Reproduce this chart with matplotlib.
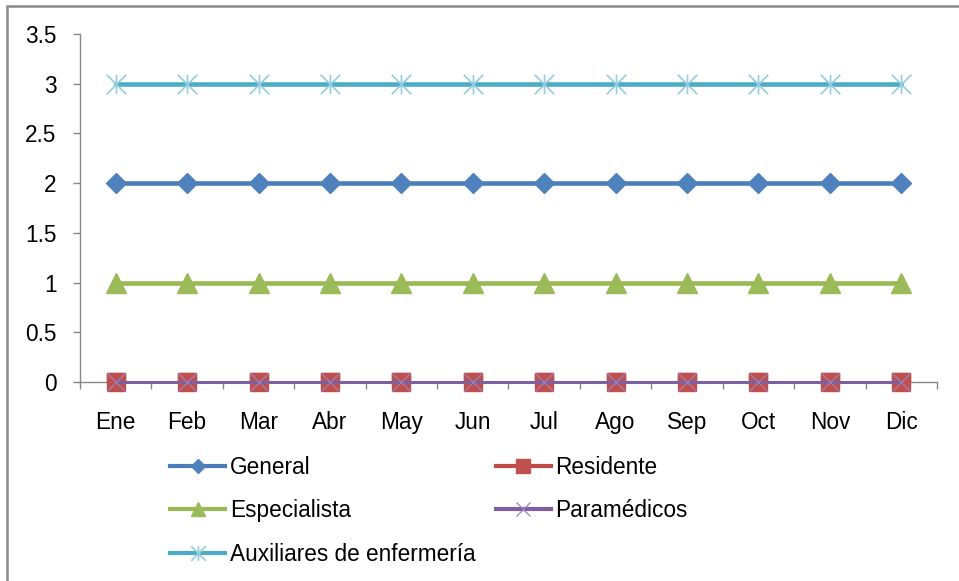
import matplotlib
matplotlib.use("Agg")
import matplotlib.pyplot as plt
from matplotlib.path import Path
from matplotlib.patches import Rectangle

plt.rcParams['font.family'] = ['Liberation Sans', 'DejaVu Sans']

months = ["Ene", "Feb", "Mar", "Abr", "May", "Jun", "Jul", "Ago", "Sep", "Oct", "Nov", "Dic"]
general = [2, 2, 2, 2, 2, 2, 2, 2, 2, 2, 2, 2]
residente = [0, 0, 0, 0, 0, 0, 0, 0, 0, 0, 0, 0]
especialista = [1, 1, 1, 1, 1, 1, 1, 1, 1, 1, 1, 1]
paramedicos = [0, 0, 0, 0, 0, 0, 0, 0, 0, 0, 0, 0]
auxiliares = [3, 3, 3, 3, 3, 3, 3, 3, 3, 3, 3, 3]
y_ticks = [0, 0.5, 1, 1.5, 2, 2.5, 3, 3.5]
y_labels = ["0", "0.5", "1", "1.5", "2", "2.5", "3", "3.5"]

W, H = 959, 581
fig = plt.figure(figsize=(W / 100, H / 100), dpi=100)
ax = fig.add_axes([80 / W, (H - 382) / H, (937 - 80) / W, (382 - 34) / H])

x = list(range(len(months)))
FS = 16.3

star = Path([(-1, -1), (1, 1), (-1, 1), (1, -1), (0, -1), (0, 1)],
            [Path.MOVETO, Path.LINETO, Path.MOVETO, Path.LINETO, Path.MOVETO, Path.LINETO])

h_gen, = ax.plot(x, general, color='#4A7EBB', lw=3.3, marker='D', ms=9.8,
                 mfc='#4F81BD', mec='#4F81BD', label='General', clip_on=False, zorder=3)
# Residente: line clipped to plot area (hidden under Paramédicos), markers unclipped
h_res, = ax.plot(x, residente, color='#BE4B48', lw=2.0, marker='s', ms=13.5,
                 mfc='#C0504D', mec='#C0504D', label='Residente', clip_on=True, zorder=3)
ax.plot(x, residente, ls='none', marker='s', ms=13.5,
        mfc='#C0504D', mec='#C0504D', clip_on=False, zorder=3)
h_esp, = ax.plot(x, especialista, color='#98B954', lw=3.3, marker='^', ms=13.8,
                 mfc='#9BBB59', mec='#9BBB59', label='Especialista', clip_on=False, zorder=3)
h_par, = ax.plot(x, paramedicos, color='#7D60A0', lw=2.2, marker='x', ms=13.5, mew=0.9,
                 mec='#9A82BE', label='Paramédicos', clip_on=False, zorder=4)
h_aux, = ax.plot(x, auxiliares, color='#4BACC6', lw=3.3, marker=star, ms=14, mew=1.2,
                 mec='#93CDDD', mfc='none', label='Auxiliares de enfermería', clip_on=False, zorder=3)

ax.set_xlim(-0.5, 11.5)
ax.set_ylim(0, 3.5)
ax.set_yticks(y_ticks)
ax.set_yticklabels(y_labels, fontsize=FS)
ax.set_xticks(x)
ax.set_xticklabels(months, fontsize=FS)
ax.set_xticks([i - 0.5 for i in range(13)], minor=True)
ax.tick_params(axis='x', which='major', length=0, pad=21)
ax.tick_params(axis='x', which='minor', length=5, width=1, color='#868686', direction='out')
ax.tick_params(axis='y', which='major', length=5, width=1, color='#868686', direction='out', pad=12)

for s in ['top', 'right']:
    ax.spines[s].set_visible(False)
for s in ['left', 'bottom']:
    ax.spines[s].set_color('#868686')
    ax.spines[s].set_linewidth(1)

# row-major legend order (matplotlib fills columns first)
leg_handles = [h_gen, h_esp, h_aux, h_res, h_par]
leg = fig.legend(leg_handles, [h.get_label() for h in leg_handles],
                 ncol=2, loc='upper left', bbox_to_anchor=(170 / W, 1 - 456 / H),
                 frameon=False, fontsize=FS, handlelength=2.45, handletextpad=0.2,
                 columnspacing=0.88, labelspacing=0.9, borderpad=0, borderaxespad=0,
                 numpoints=1, markerscale=0.75)
for ln in leg.get_lines():
    ln.set_linewidth(3.0)

fig.add_artist(Rectangle((7 / W, -0.1), 1.2, (H - 6) / H + 0.1, transform=fig.transFigure,
                         fill=False, ec='#8A8A8A', lw=1.8))

fig.savefig('out.png', dpi=100)
